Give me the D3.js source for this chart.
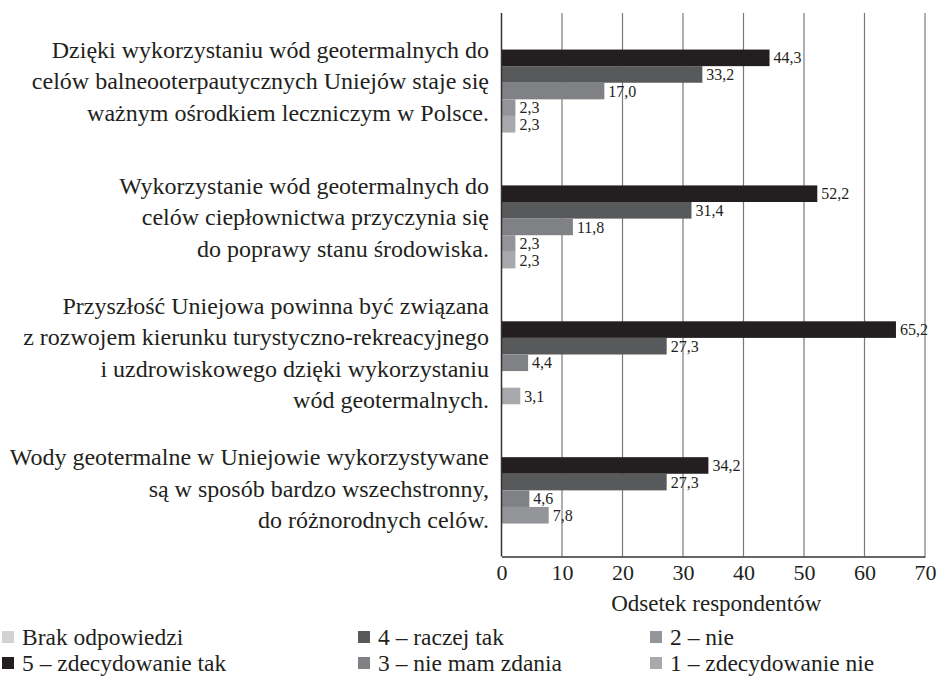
<!DOCTYPE html>
<html><head><meta charset="utf-8">
<script src="https://cdn.jsdelivr.net/npm/d3@7"></script>
</head><body style="margin:0"><svg id="c" width="942" height="676" style="font-family:'Liberation Serif','Times New Roman',serif" font-family="Liberation Serif"></svg>
<script>
const categories = [
  ["Dzięki wykorzystaniu wód geotermalnych do","celów balneooterpautycznych Uniejów staje się","ważnym ośrodkiem leczniczym w Polsce."],
  ["Wykorzystanie wód geotermalnych do","celów ciepłownictwa przyczynia się","do poprawy stanu środowiska."],
  ["Przyszłość Uniejowa powinna być związana","z rozwojem kierunku turystyczno-rekreacyjnego","i uzdrowiskowego dzięki wykorzystaniu","wód geotermalnych."],
  ["Wody geotermalne w Uniejowie wykorzystywane","są w sposób bardzo wszechstronny,","do różnorodnych celów."]
];
const seriesNames = ["Brak odpowiedzi","5 – zdecydowanie tak","4 – raczej tak","3 – nie mam zdania","2 – nie","1 – zdecydowanie nie"];
const brak = [null, null, null, null];
const s5 = [44.3, 52.2, 65.2, 34.2];
const s4 = [33.2, 31.4, 27.3, 27.3];
const s3 = [17.0, 11.8, 4.4, 4.6];
const s2 = [2.3, 2.3, null, 7.8];
const s1 = [2.3, 2.3, 3.1, null];
const xTicks = [0,10,20,30,40,50,60,70];
const colors = ["#d1d2d4","#231f20","#58595b","#808184","#939598","#a7a9ac"];

const FONT = "'Liberation Serif','Times New Roman',serif";
function setFont(sel){ return sel.attr("font-family","Liberation Serif").style("font-family",FONT); }
const allSeries = [brak, s5, s4, s3, s2, s1];
const svg = d3.select("#c");
const x = d3.scaleLinear().domain([0,70]).range([501.5,925]);
const plotTop = 13, plotBottom = 556.5;
const y = d3.scaleBand().domain(d3.range(categories.length)).range([14.8,558.3]).paddingInner(0.267).paddingOuter(0.1335);
const yi = d3.scaleBand().domain(d3.range(seriesNames.length)).range([0,y.bandwidth()]);

svg.append("rect").attr("width",942).attr("height",676).attr("fill","#fff");

// gridlines
svg.append("g").selectAll("line").data(xTicks.slice(1)).join("line")
  .attr("x1",d=>x(d)).attr("x2",d=>x(d)).attr("y1",plotTop).attr("y2",plotBottom)
  .attr("stroke","#7a7a7a").attr("stroke-width",1.2);

// bars
const g = svg.append("g");
allSeries.forEach((vals,si)=>{
  vals.forEach((v,ci)=>{
    if(v==null) return;
    const yy = y(ci)+yi(si);
    g.append("rect").attr("x",x(0)).attr("y",yy).attr("width",x(v)-x(0)).attr("height",yi.bandwidth())
      .attr("fill",colors[si]);
    setFont(g.append("text")).attr("x",x(v)+4).attr("y",yy+yi.bandwidth()/2).attr("dy","0.35em")
      .attr("font-size",16).attr("fill","#231f20").text(v.toFixed(1).replace(".",","));
  });
});

// axes lines
svg.append("line").attr("x1",x(0)).attr("x2",x(0)).attr("y1",plotTop).attr("y2",plotBottom).attr("stroke","#333").attr("stroke-width",1.5);
const xAxis = svg.append("g").attr("transform",`translate(0,${plotBottom})`)
  .call(d3.axisBottom(x).tickValues(xTicks).tickSize(0).tickPadding(8).tickFormat(d3.format("d")));
setFont(xAxis);
xAxis.select(".domain").attr("stroke","#333").attr("stroke-width",1.5);
setFont(xAxis.selectAll("text")).attr("font-size",22).attr("fill","#231f20");

setFont(svg.append("text")).attr("x",(x(0)+x(70))/2+3).attr("y",603).attr("dy","0.35em").attr("text-anchor","middle")
  .attr("font-size",23).attr("fill","#231f20").text("Odsetek respondentów");

// category labels
categories.forEach((lines,ci)=>{
  const cy = y(ci)+y.bandwidth()/2-2;
  const lh = 31.5;
  const t = setFont(svg.append("text")).attr("text-anchor","end").attr("font-size",24).attr("fill","#231f20");
  lines.forEach((l,li)=>{
    setFont(t.append("tspan")).attr("x",489).attr("y",cy+(li-(lines.length-1)/2)*lh).attr("dy","0.35em").text(l);
  });
});

// legend
const legPos = [[2,637],[2,663],[358,637],[358,663],[650,637],[650,663]];
seriesNames.forEach((n,i)=>{
  const [lx,ly] = legPos[i];
  svg.append("rect").attr("x",lx).attr("y",ly-6).attr("width",12).attr("height",12).attr("fill",colors[i]);
  setFont(svg.append("text")).attr("x",lx+20).attr("y",ly).attr("dy","0.35em").attr("font-size",23.5).attr("fill","#231f20").text(n);
});
</script></body></html>
